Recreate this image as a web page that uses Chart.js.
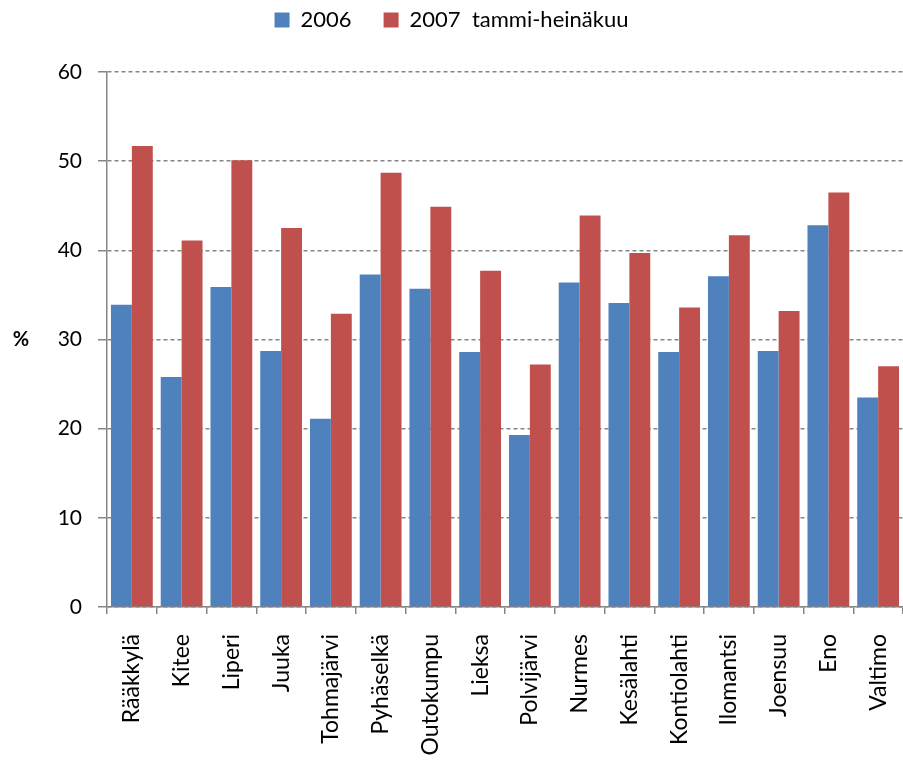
<!DOCTYPE html>
<html>
<head>
<meta charset="utf-8">
<script src="https://cdn.jsdelivr.net/npm/chart.js@4/dist/chart.umd.min.js"></script>
<style>
  html, body { margin: 0; padding: 0; background: #fff; }
  #wrap { position: relative; width: 903px; height: 760px; }
</style>
</head>
<body>
<div id="wrap"><canvas id="c" width="903" height="760"></canvas></div>
<script>
const categories = ["Rääkkylä","Kitee","Liperi","Juuka","Tohmajärvi","Pyhäselkä","Outokumpu","Lieksa","Polvijärvi","Nurmes","Kesälahti","Kontiolahti","Ilomantsi","Joensuu","Eno","Valtimo"];
const values2006 = [33.9,25.8,35.9,28.7,21.1,37.3,35.7,28.6,19.3,36.4,34.1,28.6,37.1,28.7,42.8,23.5];
const values2007 = [51.7,41.1,50.1,42.5,32.9,48.7,44.9,37.7,27.2,43.9,39.7,33.6,41.7,33.2,46.5,27.0];
const seriesNames = ["2006","2007  tammi-heinäkuu"];
const yTicks = [0,10,20,30,40,50,60];
const yAxisLabel = "%";

const FONT = "Lato, 'Open Sans', sans-serif";
const gridColor = "#868686";

const yTitlePlugin = {
  id: 'yTitle',
  afterDraw(chart) {
    const ctx = chart.ctx;
    const y = chart.scales.y;
    ctx.save();
    ctx.font = "bold 20px " + FONT;
    ctx.fillStyle = "#000";
    ctx.textAlign = "center";
    ctx.textBaseline = "middle";
    ctx.fillText(yAxisLabel, 21, y.getPixelForValue(30));
    ctx.restore();
  }
};

const legendFit = {
  id: 'legendFit',
  beforeInit(chart) {
    const lg = chart.legend;
    if (!lg) return;
    const orig = lg.fit;
    lg.fit = function () { orig.call(this); this.height = 95; };
  }
};

new Chart(document.getElementById('c'), {
  type: 'bar',
  data: {
    labels: categories,
    datasets: [
      { label: seriesNames[0], data: values2006, backgroundColor: "#4F81BD", borderWidth: 0 },
      { label: seriesNames[1], data: values2007, backgroundColor: "#C0504D", borderWidth: 0 }
    ]
  },
  options: {
    responsive: false,
    animation: false,
    devicePixelRatio: 1,
    layout: { padding: { left: 0, right: 0, top: -23, bottom: 0 } },
    datasets: { bar: { categoryPercentage: 0.84, barPercentage: 1.0 } },
    plugins: {
      legend: {
        position: 'top',
        labels: {
          font: { family: FONT, size: 22 },
          color: "#000",
          boxWidth: 15,
          boxHeight: 15,
          padding: 32
        }
      },
      tooltip: { enabled: false }
    },
    scales: {
      x: {
        offset: true,
        grid: { display: true, drawOnChartArea: false, drawTicks: true, tickLength: 7, color: gridColor, lineWidth: 1.5, offset: true },
        border: { display: true, color: gridColor, width: 1.5 },
        ticks: { font: { family: FONT, size: 23 }, color: "#000", minRotation: 90, maxRotation: 90, padding: 20, autoSkip: false },
        afterFit(scale) { scale.height = 153; scale.paddingLeft = 0; scale.paddingRight = 0; }
      },
      y: {
        min: 0, max: 60,
        afterBuildTicks(scale) { scale.ticks = yTicks.map(v => ({ value: v })); },
        grid: { color: gridColor, lineWidth: 1.5, tickLength: 9, drawTicks: true, tickBorderDash: [] },
        border: { display: true, color: gridColor, width: 1.5, dash: [4, 3] },
        ticks: { font: { family: FONT, size: 21 }, color: "#000", padding: 16 },
        afterFit(scale) { scale.width = 107; }
      }
    }
  },
  plugins: [yTitlePlugin, legendFit]
});
</script>
</body>
</html>
